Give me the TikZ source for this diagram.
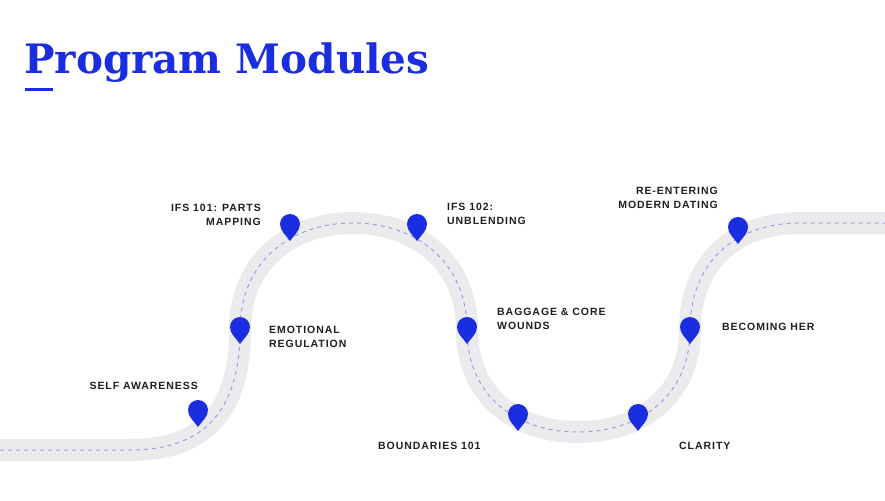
\documentclass[tikz,border=0pt]{standalone}
\usepackage{fontspec}
\setmainfont{Liberation Sans}
\newfontfamily\titlefont{DejaVu Serif}
\begin{document}
\begin{tikzpicture}[x=1pt,y=-1pt,
  lbl/.style={font=\bfseries\fontsize{10.5}{14}\selectfont\addfontfeature{LetterSpace=9}, text=black!88, inner sep=0pt},
  lbll/.style={lbl, anchor=west, align=left},
  lblr/.style={lbl, anchor=east, align=right},
  pin/.pic={\fill[fill=pinblue] (0,0) .. controls (-4,-6) and (-10,-10) .. (-10,-17) arc[start angle=180,end angle=360,radius=10] .. controls (10,-10) and (4,-6) .. (0,0) -- cycle;}]
\definecolor{pinblue}{HTML}{1A2DE0}
\definecolor{roadgray}{HTML}{EBEBEE}
\definecolor{dashblue}{HTML}{9A9CE8}
\fill[white] (0,0) rectangle (885,500);
\useasboundingbox (0,0) rectangle (885,500);
\def\roadpath{(0,450) -- (130,450) .. controls (205,450) and (240,410) .. (240,330) .. controls (240,262) and (290,223) .. (353,223) .. controls (416,223) and (467,262) .. (467,330) .. controls (467,395) and (515,432) .. (578,432) .. controls (641,432) and (690,395) .. (690,330) .. controls (690,262) and (735,223) .. (800,223) -- (885,223)}
\draw[roadgray, line width=22pt] \roadpath;
\draw[dashblue, line width=1pt, dash pattern=on 4pt off 4pt] \roadpath;
\node[anchor=base west, inner sep=0pt, text=pinblue, font=\titlefont\bfseries\fontsize{40.5}{46}\selectfont] (title) at (24,74) {Program Modules};
\fill[pinblue] (25,88) rectangle (53,91);
\coordinate (p1) at (198,427); \coordinate (p2) at (240,344);
\coordinate (p3) at (290,241); \coordinate (p4) at (417,241);
\coordinate (p5) at (467,344); \coordinate (p6) at (518,431);
\coordinate (p7) at (638,431); \coordinate (p8) at (690,344);
\coordinate (p9) at (738,244);
\foreach \p in {p1,p2,p3,p4,p5,p6,p7,p8,p9} \pic at (\p) {pin};
\node[lblr] (t1) at (198,386) {SELF AWARENESS};
\node[lblr] (t3) at (261,215) {IFS 101: PARTS\\MAPPING};
\node[lbll] (t2) at (269,337) {EMOTIONAL\\REGULATION};
\node[lbll] (t4) at (447,214) {IFS 102:\\UNBLENDING};
\node[lbll] (t5) at (497,319) {BAGGAGE \& CORE\\WOUNDS};
\node[lbll] (t6) at (378,446) {BOUNDARIES 101};
\node[lbll] (t7) at (679,446) {CLARITY};
\node[lblr] (t9) at (718,198) {RE-ENTERING\\MODERN DATING};
\node[lbll] (t8) at (722,327) {BECOMING HER};
\end{tikzpicture}
\end{document}
